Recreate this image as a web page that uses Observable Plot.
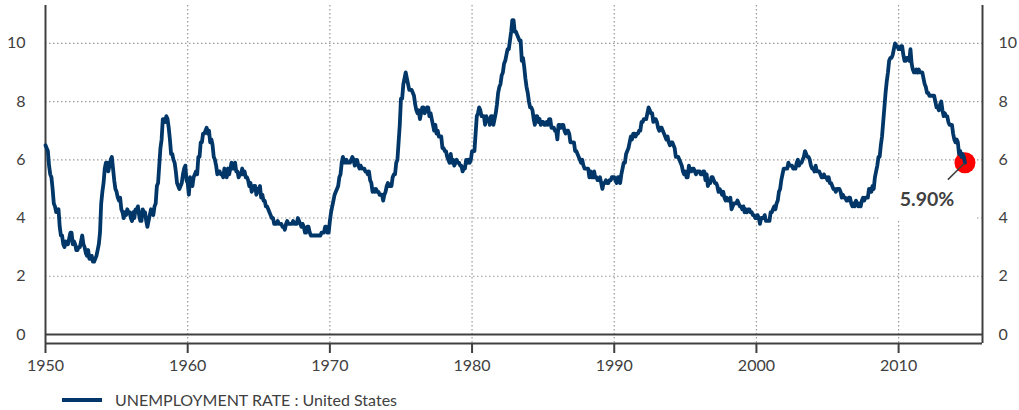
<!DOCTYPE html>
<html><head><meta charset="utf-8">
<script src="https://cdn.jsdelivr.net/npm/d3@7"></script>
<script src="https://cdn.jsdelivr.net/npm/@observablehq/plot@0.6"></script>
<style>
body{margin:0;background:#fff;font-family:Lato,sans-serif;}
#legend{height:25px;display:flex;align-items:center;font-size:16px;color:#404040;padding-top:2px;}
#legend .sw{display:inline-block;width:40px;height:4px;background:#003768;margin-left:62px;margin-right:13px;}
</style></head><body>
<div id="chart"></div>
<div id="legend"><span class="sw"></span><span>UNEMPLOYMENT RATE : United States</span></div>
<script>
// Monthly unemployment rate (%), United States
const startYear = 1950;
const rate1950s = [
6.5,6.4,6.3,5.8,5.5,5.4,5.0,4.5,4.4,4.2,4.2,4.3,
3.7,3.4,3.4,3.1,3.0,3.2,3.1,3.1,3.3,3.5,3.5,3.1,
3.2,3.1,2.9,2.9,3.0,3.0,3.2,3.4,3.1,3.0,2.8,2.7,
2.9,2.6,2.6,2.7,2.5,2.5,2.6,2.7,2.9,3.1,3.5,4.5,
4.9,5.2,5.7,5.9,5.9,5.6,5.8,6.0,6.1,5.7,5.3,5.0,
4.9,4.7,4.6,4.7,4.3,4.2,4.0,4.2,4.1,4.3,4.2,4.2,
4.0,3.9,4.2,4.0,4.3,4.3,4.4,4.1,3.9,3.9,4.3,4.2,
4.2,3.9,3.7,3.9,4.1,4.3,4.2,4.1,4.4,4.5,5.1,5.2,
5.8,6.4,6.7,7.4,7.4,7.3,7.5,7.4,7.1,6.7,6.2,6.2,
6.0,5.9,5.6,5.2,5.1,5.0,5.1,5.2,5.5,5.7,5.8,5.3];
const rate1960s = [
5.2,4.8,5.4,5.2,5.1,5.4,5.5,5.6,5.5,6.1,6.1,6.6,
6.6,6.9,6.9,7.0,7.1,6.9,7.0,6.6,6.7,6.5,6.1,6.0,
5.8,5.5,5.6,5.6,5.5,5.5,5.4,5.7,5.6,5.4,5.7,5.5,
5.7,5.9,5.7,5.7,5.9,5.6,5.6,5.4,5.5,5.5,5.7,5.5,
5.6,5.4,5.4,5.3,5.1,5.2,4.9,5.0,5.1,5.1,4.8,5.0,
4.9,5.1,4.7,4.8,4.6,4.6,4.4,4.4,4.3,4.2,4.1,4.0,
4.0,3.8,3.8,3.8,3.9,3.8,3.8,3.8,3.7,3.7,3.6,3.8,
3.9,3.8,3.8,3.8,3.8,3.9,3.8,3.8,3.8,4.0,3.9,3.8,
3.7,3.8,3.7,3.5,3.5,3.7,3.7,3.5,3.4,3.4,3.4,3.4,
3.4,3.4,3.4,3.4,3.4,3.5,3.5,3.5,3.7,3.7,3.5,3.5];
const rate1970s = [
3.9,4.2,4.4,4.6,4.8,4.9,5.0,5.1,5.4,5.5,5.9,6.1,
5.9,5.9,6.0,5.9,5.9,5.9,6.0,6.1,6.0,5.8,6.0,6.0,
5.8,5.7,5.8,5.7,5.7,5.7,5.6,5.6,5.5,5.6,5.3,5.2,
4.9,5.0,4.9,5.0,4.9,4.9,4.8,4.8,4.8,4.6,4.8,4.9,
5.1,5.2,5.1,5.1,5.1,5.4,5.5,5.5,5.9,6.0,6.6,7.2,
8.1,8.1,8.6,8.8,9.0,8.8,8.6,8.4,8.4,8.4,8.3,8.2,
7.9,7.7,7.6,7.7,7.4,7.6,7.8,7.8,7.6,7.7,7.8,7.8,
7.5,7.6,7.4,7.2,7.0,7.2,6.9,7.0,6.8,6.8,6.8,6.4,
6.4,6.3,6.3,6.1,6.0,5.9,6.2,5.9,6.0,5.8,5.9,6.0,
5.9,5.9,5.8,5.8,5.6,5.7,5.7,6.0,5.9,6.0,5.9,6.0];
const rate1980s = [
6.3,6.3,6.3,6.9,7.5,7.6,7.8,7.7,7.5,7.5,7.5,7.2,
7.5,7.4,7.4,7.2,7.5,7.5,7.2,7.4,7.6,7.9,8.3,8.5,
8.6,8.9,9.0,9.3,9.4,9.6,9.8,9.8,10.1,10.4,10.8,10.8,
10.4,10.4,10.3,10.2,10.1,10.1,9.4,9.5,9.2,8.8,8.5,8.3,
8.0,7.8,7.8,7.7,7.4,7.2,7.5,7.5,7.3,7.4,7.2,7.3,
7.3,7.2,7.2,7.3,7.2,7.4,7.4,7.1,7.1,7.1,7.0,7.0,
6.7,7.2,7.2,7.1,7.2,7.2,7.0,6.9,7.0,7.0,6.9,6.6,
6.6,6.6,6.6,6.3,6.3,6.2,6.1,6.0,5.9,6.0,5.8,5.7,
5.7,5.7,5.7,5.4,5.6,5.4,5.4,5.6,5.4,5.4,5.3,5.3,
5.4,5.2,5.0,5.2,5.2,5.3,5.2,5.2,5.3,5.3,5.4,5.4];
const rate1990s = [
5.4,5.3,5.2,5.4,5.4,5.2,5.5,5.7,5.9,5.9,6.2,6.3,
6.4,6.6,6.8,6.7,6.9,6.9,6.8,6.9,6.9,7.0,7.0,7.3,
7.3,7.4,7.4,7.4,7.6,7.8,7.7,7.6,7.6,7.3,7.4,7.4,
7.3,7.1,7.0,7.1,7.1,7.0,6.9,6.8,6.7,6.8,6.6,6.5,
6.6,6.6,6.5,6.4,6.1,6.1,6.1,6.0,5.9,5.8,5.6,5.5,
5.6,5.4,5.4,5.8,5.6,5.6,5.7,5.7,5.6,5.5,5.6,5.6,
5.6,5.5,5.5,5.6,5.6,5.3,5.5,5.1,5.2,5.2,5.4,5.4,
5.3,5.2,5.2,5.1,4.9,5.0,4.9,4.8,4.9,4.7,4.6,4.7,
4.6,4.6,4.7,4.3,4.4,4.5,4.5,4.5,4.6,4.5,4.4,4.4,
4.3,4.4,4.2,4.3,4.2,4.3,4.3,4.2,4.2,4.1,4.1,4.0];
const rate2000s = [
4.0,4.1,4.0,3.8,4.0,4.0,4.0,4.1,3.9,3.9,3.9,3.9,
4.2,4.2,4.3,4.4,4.3,4.5,4.6,4.9,5.0,5.3,5.5,5.7,
5.7,5.7,5.7,5.9,5.8,5.8,5.8,5.7,5.7,5.7,5.9,6.0,
5.8,5.9,5.9,6.0,6.1,6.3,6.2,6.1,6.1,6.0,5.8,5.7,
5.7,5.6,5.8,5.6,5.6,5.6,5.5,5.4,5.4,5.5,5.4,5.4,
5.3,5.4,5.2,5.2,5.1,5.0,5.0,4.9,5.0,5.0,5.0,4.9,
4.7,4.8,4.7,4.7,4.6,4.6,4.7,4.7,4.5,4.4,4.5,4.4,
4.6,4.5,4.4,4.5,4.4,4.6,4.7,4.6,4.7,4.7,4.7,5.0,
5.0,4.9,5.1,5.0,5.4,5.6,5.8,6.1,6.1,6.5,6.8,7.3,
7.8,8.3,8.7,9.0,9.4,9.5,9.5,9.6,9.8,10.0,9.9,9.9];
const rate2010s = [
9.8,9.8,9.9,9.9,9.6,9.4,9.4,9.5,9.5,9.4,9.8,9.3,
9.1,9.0,9.0,9.1,9.0,9.1,9.0,9.0,9.0,8.8,8.6,8.5,
8.3,8.3,8.2,8.2,8.2,8.2,8.2,8.0,7.8,7.8,7.7,7.9,
8.0,7.7,7.5,7.6,7.5,7.5,7.3,7.2,7.2,7.2,6.9,6.7,
6.6,6.7,6.6,6.2,6.3,6.1,6.2,6.1,5.9];

const decades = [rate1950s, rate1960s, rate1970s, rate1980s, rate1990s, rate2000s, rate2010s];
const xTicks = [1950, 1960, 1970, 1980, 1990, 2000, 2010];
const yTicks = [0, 2, 4, 6, 8, 10];
const gridYValues = [2, 4, 6, 8, 10];
const xDomain = [1950, 2015.9];
const yDomain = [-0.31, 11.3];
const latestLabel = "5.90%";

const data = [];
decades.forEach((arr, i) => arr.forEach((v, m) => data.push({t: startYear + i * 10 + m / 12, v})));
const last = data[data.length - 1];

const ink = "#404040";
const chart = Plot.plot({
  width: 1019, height: 385,
  marginLeft: 45, marginRight: 37, marginTop: 5, marginBottom: 42,
  style: {fontFamily: "Lato, sans-serif", fontSize: "16px", color: ink, background: "#fff"},
  x: {domain: xDomain},
  y: {domain: yDomain},
  marks: [
    Plot.ruleY(gridYValues, {stroke: "#9a9a9a", strokeDasharray: "1.5,2.5", strokeWidth: 1.2}),
    Plot.ruleX(xTicks.slice(1), {stroke: "#9a9a9a", strokeDasharray: "1.5,2.5", strokeWidth: 1.2}),
    Plot.rect([last], {x1: d => d.t - 5.9, x2: d => d.t + 0.8, y1: d => d.v - 0.55, y2: d => d.v - 2.0, fill: "white"}),
    Plot.ruleY([0], {stroke: ink, strokeWidth: 2.2}),
    Plot.ruleY([yDomain[0]], {stroke: ink, strokeWidth: 2}),
    Plot.ruleX(xDomain, {stroke: ink, strokeWidth: 2}),
    Plot.axisY(yTicks, {anchor: "left", tickSize: 0, tickPadding: 20, fontSize: 16, color: ink, label: null}),
    Plot.axisY(yTicks, {anchor: "right", tickSize: 0, tickPadding: 16, fontSize: 16, color: ink, label: null}),
    Plot.axisX(xTicks, {anchor: "bottom", tickSize: 10, tickPadding: 6, tickFormat: d => String(d), fontSize: 16, color: ink, strokeWidth: 2, label: null}),
    Plot.dot([last], {x: "t", y: "v", r: 10.5, fill: "#ff0000"}),
    Plot.line(data, {x: "t", y: "v", stroke: "#003768", strokeWidth: 3.8, strokeLinejoin: "round"}),
    Plot.link([last], {x1: "t", y1: "v", x2: d => d.t - 1.2, y2: d => d.v - 0.58, stroke: ink, strokeWidth: 1.5}),
    Plot.text([last], {x: "t", y: "v", text: () => latestLabel, dx: -38, dy: 37, fontSize: 19.5, fontWeight: "bold", fill: ink})
  ]
});
document.getElementById("chart").appendChild(chart);
</script>
</body></html>
